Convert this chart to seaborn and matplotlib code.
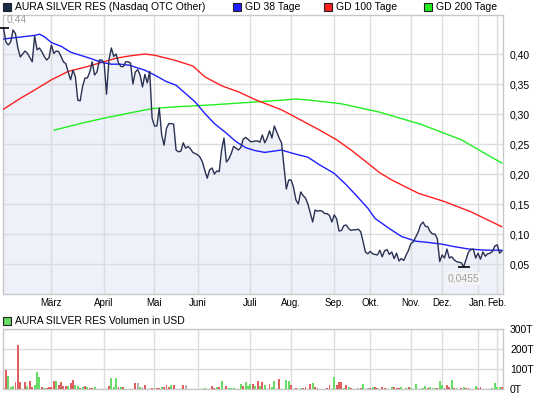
import numpy as np
import pandas as pd
import matplotlib
matplotlib.use("Agg")
import matplotlib.pyplot as plt
from matplotlib.patches import Rectangle
import seaborn as sns

# ---------------- data ----------------
price = [
    .443, .42, .415, .42, .44, .434, .41, .395, .40, .405,
    .401, .394, .387, .43, .407, .41, .404, .396, .39, .394,
    .415, .401, .405, .404, .396, .387, .384, .37, .357, .373,
    .362, .323, .322, .346, .36, .36, .37, .387, .365, .37,
    .39, .39, .385, .333, .39, .41, .396, .40, .385, .379,
    .379, .387, .387, .385, .35, .37, .374, .365, .345, .366,
    .352, .371, .293, .28, .28, .31, .265, .248, .276, .284,
    .284, .283, .24, .237, .238, .252, .243, .246, .242, .236,
    .234, .232, .228, .22, .206, .193, .207, .21, .20, .205,
    .204, .24, .26, .22, .225, .234, .246, .243, .24, .244,
    .258, .261, .258, .254, .254, .255, .255, .253, .265, .252,
    .26, .272, .26, .28, .27, .26, .252, .213, .175, .19,
    .19, .178, .157, .15, .17, .164, .16, .15, .135, .12,
    .14, .138, .139, .138, .134, .134, .131, .12, .132, .125,
    .105, .106, .114, .115, .109, .106, .107, .107, .108, .104,
    .088, .07, .067, .071, .067, .066, .065, .073, .062, .072,
    .074, .066, .07, .059, .068, .055, .059, .056, .065, .073,
    .084, .087, .095, .103, .115, .12, .113, .112, .104, .10,
    .10, .092, .054, .065, .06, .075, .06, .062, .057, .054,
    .053, .052, .0455, .058, .07, .074, .075, .06, .068, .058,
    .07, .063, .067, .068, .071, .08, .082, .068, .072,
]
days = list(range(len(price)))

gd38_day = [0, 13, 15, 17, 20, 24, 28, 32, 36, 41, 45, 49, 53, 55, 59, 63, 68, 72, 76, 80,
            84, 88, 93, 97, 101, 105, 109, 116, 121, 127, 132, 138, 143, 147, 152, 155, 161,
            166, 172, 177, 183, 188, 194, 201, 208]
gd38_val = [.425, .431, .433, .429, .419, .413, .403, .398, .393, .386, .383, .383, .381, .378,
            .373, .365, .354, .348, .334, .32, .301, .284, .268, .254, .244, .239, .236, .24,
            .234, .228, .215, .201, .182, .165, .143, .126, .109, .096, .088, .086, .083, .079,
            .075, .073, .073]

gd100_day = [0, 7, 13, 20, 27, 34, 41, 47, 53, 59, 63, 72, 79, 84, 91, 98, 105, 116, 124, 132,
             139, 145, 152, 157, 162, 173, 184, 195, 208]
gd100_val = [.308, .326, .34, .357, .371, .378, .386, .393, .397, .40, .398, .389, .38, .362,
             .347, .337, .324, .307, .29, .273, .257, .24, .218, .202, .19, .168, .154, .137, .112]

gd200_day = [21, 34, 43, 53, 62, 72, 86, 105, 116, 122, 128, 141, 157, 174, 191, 208]
gd200_val = [.273, .286, .294, .302, .309, .312, .315, .32, .323, .325, .323, .317, .303, .283,
             .257, .218]

vol_day = [0, 1, 2, 3, 4, 5, 6, 7, 9, 10, 11, 12, 13, 14, 15, 16, 17, 18, 19, 20,
           21, 22, 23, 24, 25, 26, 27, 28, 29, 30, 31, 32, 33, 34, 35, 36, 37, 38,
           44, 45, 46, 47, 48, 49, 50, 55, 56, 57, 58, 59, 62, 63, 64, 65, 66, 67, 68, 69,
           70, 71, 75, 76, 84, 87, 88, 89, 90, 91, 93, 94, 95, 96, 99, 100, 101, 102, 103,
           104, 105, 106, 107, 108, 109, 111, 112, 113, 115, 118, 119, 120, 122, 124, 125,
           126, 128, 129, 130, 131, 135, 136, 138, 139, 140, 141, 142, 143, 144, 145, 148,
           149, 150, 152, 153, 154, 155, 156, 158, 159, 162, 163, 164, 165, 166, 168, 169,
           170, 172, 175, 176, 177, 178, 179, 180, 181, 182, 183, 184, 185, 186, 187, 188,
           189, 191, 192, 193, 194, 197, 198, 199, 204, 205, 206, 207, 208]
vol_val = [10, 93, 63, 8, 17, 33, 222, 33, 33, 17, 42, 12, 22, 87, 60, 10, 7, 7, 8, 12,
           42, 42, 22, 37, 17, 17, 17, 32, 45, 22, 17, 7, 10, 17, 10, 7, 7, 10,
           17, 55, 8, 57, 10, 10, 10, 32, 32, 12, 12, 22, 7, 7, 3, 7, 10, 12, 22, 12,
           22, 20, 22, 22, 7, 17, 7, 12, 12, 42, 17, 7, 7, 7, 27, 17, 33, 17, 27,
           27, 17, 42, 13, 33, 22, 27, 10, 38, 52, 47, 42, 20, 7, 7, 7,
           12, 27, 32, 12, 7, 7, 22, 60, 18, 37, 37, 7, 20, 10, 7, 7,
           7, 27, 7, 7, 10, 10, 7, 10, 7, 10, 10, 7, 7, 10, 7, 10,
           7, 27, 7, 17, 7, 10, 7, 7, 7, 42, 22, 7, 20, 10, 43, 7,
           7, 7, 10, 7, 7, 17, 7, 10, 7, 28, 10, 10, 10]
vol_dir = list("ergggrrrrgrrgggrgrrrrgrrrrgrrggrgrgrrgr"
               "gggrgrre" "gerrg" "rrgrrrgrre" "gr" "rgrgrgggg"
               "rgggrgrgrgrggrggrrgrrrgrrrrgrrrgr" "grerger" "gr"
               "rrrgrrrggrggggrgggrggrrrgrgrgrrgrrggggrgggrgrggrrg")

months = ["März", "April", "Mai", "Juni", "Juli", "Aug.", "Sep.", "Okt.", "Nov.",
          "Dez.", "Jan.", "Feb."]
month_day = [20, 42, 63, 81, 103, 120, 138, 153, 170, 183, 198, 206]
price_ticks = [0.05, 0.10, 0.15, 0.20, 0.25, 0.30, 0.35, 0.40]
vol_ticks = [0, 100, 200, 300]
vol_tick_labels = ["0T", "100T", "200T", "300T"]

# fix length of direction list to match volumes
vol_dir = (vol_dir + ["g"] * len(vol_val))[:len(vol_val)]
dir_map = {"g": "up", "r": "down", "e": "flat"}

# ---------------- style ----------------
sns.set_theme(style="white")
plt.rcParams['font.family'] = ['Liberation Sans', 'DejaVu Sans']
FS = 7.5
GRID = "#dcdcdc"
SPINE = "#c8c8c8"

W, H = 545, 398
fig = plt.figure(figsize=(W / 100, H / 100), dpi=100)


def rect(l, t, r, b):
    return [l / W, 1 - b / H, (r - l) / W, (b - t) / H]


ax = fig.add_axes(rect(3, 15, 503, 294))
axv = fig.add_axes(rect(3, 329, 503, 389))

# ---------------- price panel ----------------
pdf = pd.DataFrame({"day": days, "price": price})
ax.fill_between(pdf["day"], pdf["price"], 0, color="#eef1fa", lw=0, zorder=1)
sns.lineplot(data=pdf, x="day", y="price", ax=ax, color="#283152", lw=1.0, zorder=4)
sns.lineplot(x=gd200_day, y=gd200_val, ax=ax, color="#22ee22", lw=1.0, zorder=3)
sns.lineplot(x=gd100_day, y=gd100_val, ax=ax, color="#ff2020", lw=1.0, zorder=3)
sns.lineplot(x=gd38_day, y=gd38_val, ax=ax, color="#1f1fff", lw=1.0, zorder=3)

ax.set_xlim(-0.2, 208.4)
ax.set_ylim(0, 0.465)
ax.set_yticks(price_ticks)
ax.set_yticklabels([f"{v:.2f}".replace(".", ",") for v in price_ticks])
ax.yaxis.tick_right()
ax.set_xticks(month_day)
ax.set_xticklabels(months)
ax.tick_params(axis="both", length=0, labelsize=FS, colors="black")
ax.tick_params(axis="x", labelsize=7.0, pad=3)
ax.tick_params(axis="y", pad=5)
ax.set_axisbelow("line")
ax.grid(True, color=GRID, lw=1)
ax.set_xlabel("")
ax.set_ylabel("")
for s in ax.spines.values():
    s.set_color(SPINE)
    s.set_linewidth(1)

# max / min markers
imax = int(np.argmax(price))
imin = int(np.argmin(price))
ax.plot([days[imax]], [price[imax]], marker="_", ms=9, mew=1.2, color="black",
        clip_on=False, zorder=6)
ax.annotate(f"{price[imax]:.2f}".replace(".", ","), (days[imax], price[imax]),
            xytext=(2, 3), textcoords="offset points", ha="left", va="bottom",
            fontsize=FS, color="#a0a0a0", zorder=6)
ax.plot([days[imin]], [price[imin]], marker="_", ms=9, mew=1.2, color="black",
        zorder=6)
ax.annotate(f"{price[imin]:.4f}".replace(".", ","), (days[imin], price[imin]),
            xytext=(0, -5), textcoords="offset points", ha="center", va="top",
            fontsize=FS, color="#a0a0a0", zorder=6,
            bbox=dict(boxstyle="square,pad=0.15", fc="#f4f4f4", ec="none"))

# ---------------- volume panel ----------------
vdf = pd.DataFrame({"day": vol_day, "vol": vol_val,
                    "dir": [dir_map[d] for d in vol_dir]})
sns.barplot(data=vdf, x="day", y="vol", hue="dir", native_scale=True, dodge=False,
            palette={"up": "#66dd66", "down": "#e06060", "flat": "#b4b4b4"},
            width=0.8, saturation=1, errorbar=None, legend=False, ax=axv, zorder=3,
            linewidth=0)
for p in axv.patches:
    p.set_antialiased(False)
axv.set_xlim(-0.2, 208.4)
axv.set_ylim(0, 300)
axv.set_yticks(vol_ticks)
axv.set_yticklabels(vol_tick_labels)
axv.yaxis.tick_right()
axv.set_xticks(month_day)
axv.set_xticklabels([])
axv.tick_params(axis="both", length=0, labelsize=FS, colors="black")
axv.tick_params(axis="y", pad=5)
axv.set_axisbelow(True)
axv.grid(True, color=GRID, lw=1)
axv.set_xlabel("")
axv.set_ylabel("")
for s in axv.spines.values():
    s.set_color(SPINE)
    s.set_linewidth(1)

# ---------------- legends ----------------
def legend_item(x, y, color, label):
    fig.patches.append(Rectangle((x / W, 1 - (y + 4) / H), 8 / W, 8 / H,
                                 transform=fig.transFigure, fc=color, ec="#222222",
                                 lw=0.8))
    fig.text((x + 12) / W, 1 - y / H, label, fontsize=FS, va="center", ha="left",
             color="black")


legend_item(3, 7, "#1c2a4a", "AURA SILVER RES (Nasdaq OTC Other)")
legend_item(233, 7, "#1f1fff", "GD 38 Tage")
legend_item(324, 7, "#ff2020", "GD 100 Tage")
legend_item(424, 7, "#22ee22", "GD 200 Tage")
legend_item(3, 321, "#66dd66", "AURA SILVER RES Volumen in USD")

fig.savefig("out.png", dpi=100)
